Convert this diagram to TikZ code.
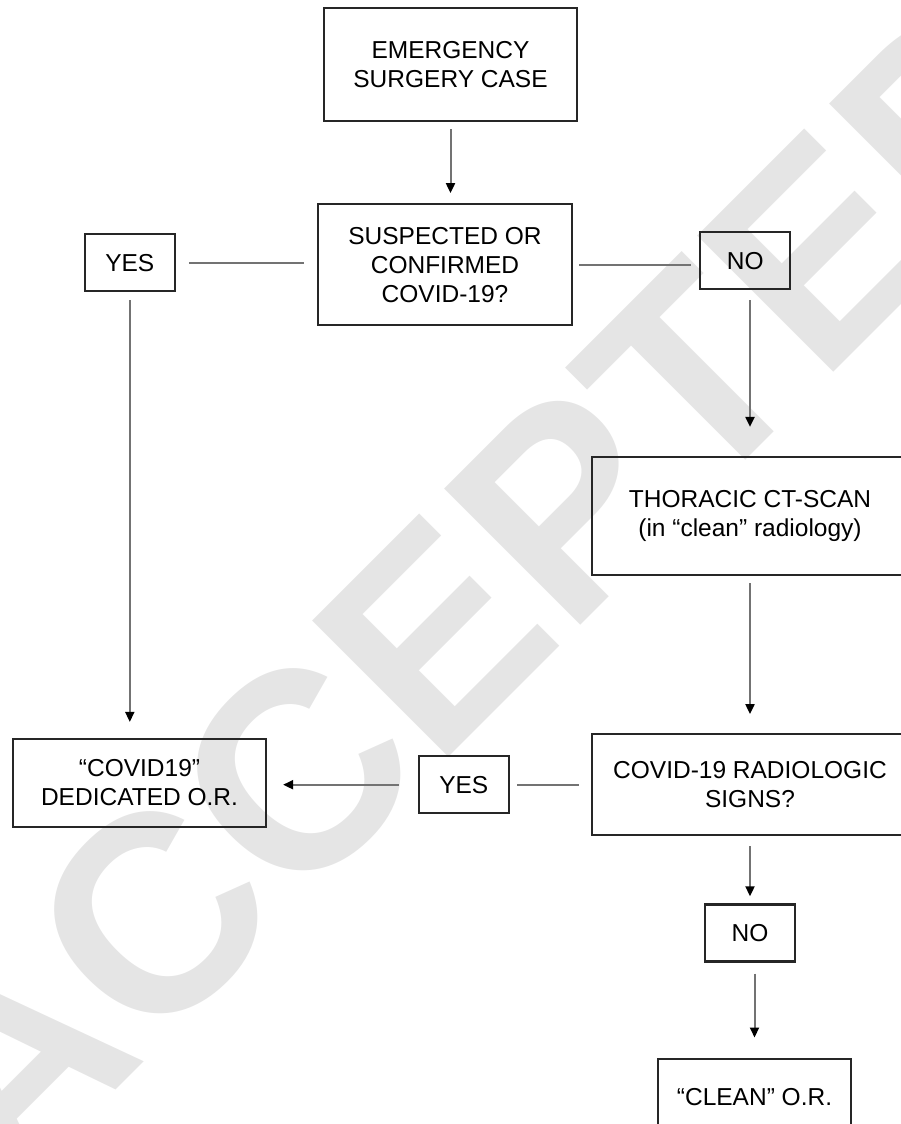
\documentclass[tikz,border=0pt]{standalone}
\usepackage{fontspec}
\setmainfont{Liberation Sans}
\usepackage{tikz}
\usetikzlibrary{positioning,arrows.meta,calc}
\tikzset{
  rectnode/.style args={#1,#2}{
  draw=black!85,
  line width=2.2pt,
  align=center,
  font=\fontsize{24.5}{29}\selectfont,
  minimum width=#1pt,
  minimum height=#2pt,
  },
  smallnode/.style={rectnode={90,57}},
  link/.style={-,draw=black!55,line width=2pt},
  arrowlink/.style={link,-{Triangle[black,width=9pt,length=10pt]}},
  watermark/.style={text=black!10,inner sep=0pt,
    font=\fontsize{280}{280}\selectfont\bfseries}
}
\begin{document}
\begin{tikzpicture}[x=1pt,y=-1pt]
  \clip (0,0) rectangle (901,1124);
  \node [watermark,rotate=45] (stamp) at (483,587) {ACCEPTED};

  \node [rectnode={253,113}] (emerg) at (450.5,64.5) {EMERGENCY\\SURGERY CASE};
  \node [rectnode={254,121}] (suspect) [below=81pt of emerg, xshift=-5.5pt] {SUSPECTED OR\\CONFIRMED\\COVID-19?};
  \node [smallnode] (yes1) [left=141pt of suspect, yshift=2pt] {YES};
  \node [smallnode] (no1) [right=126pt of suspect, yshift=4pt] {NO};

  \node [rectnode={316,118}] (ct) at (750,516) {THORACIC CT-SCAN\\(in “clean” radiology)};
  \node [rectnode={316,101}] (radio) [below=157pt of ct] {COVID-19 RADIOLOGIC\\SIGNS?};
  \node [rectnode={253,88}] (covid) at (139.5,783) {“COVID19”\\DEDICATED O.R.};
  \node [smallnode] (yes2) [left=81pt of radio] {YES};
  \node [smallnode] (no2) [below=67pt of radio] {NO};
  \node [rectnode={193,76}] (clean) [below=95pt of no2, xshift=4.5pt] {“CLEAN” O.R.};

  \draw [arrowlink,shorten <=7pt,shorten >=10pt] (emerg.south) -- (emerg.south |- suspect.north);
  \draw [link,shorten <=13pt,shorten >=13pt] (yes1.east) -- (yes1.east -| suspect.west);
  \draw [link,shorten <=6pt,shorten >=8pt] (suspect.east) -- (suspect.east -| no1.west);
  \draw [arrowlink,shorten <=8pt,shorten >=16pt] (yes1.south) -- (yes1.south |- covid.north);
  \draw [arrowlink,shorten <=10pt,shorten >=29pt] (ct.north |- no1.south) -- (ct.north);
  \draw [arrowlink,shorten <=7pt,shorten >=19pt] (ct.south) -- (radio.north);
  \draw [link,shorten <=12pt,shorten >=7pt] (radio.west) -- (radio.west -| yes2.east);
  \draw [arrowlink,shorten <=19pt,shorten >=16pt] (yes2.west) -- (yes2.west -| covid.east);
  \draw [arrowlink,shorten <=10pt,shorten >=7pt] (radio.south) -- (radio.south |- no2.north);
  \draw [arrowlink,shorten <=11pt,shorten >=20pt] (no2.south -| clean.north) -- (clean.north);
\end{tikzpicture}
\end{document}
